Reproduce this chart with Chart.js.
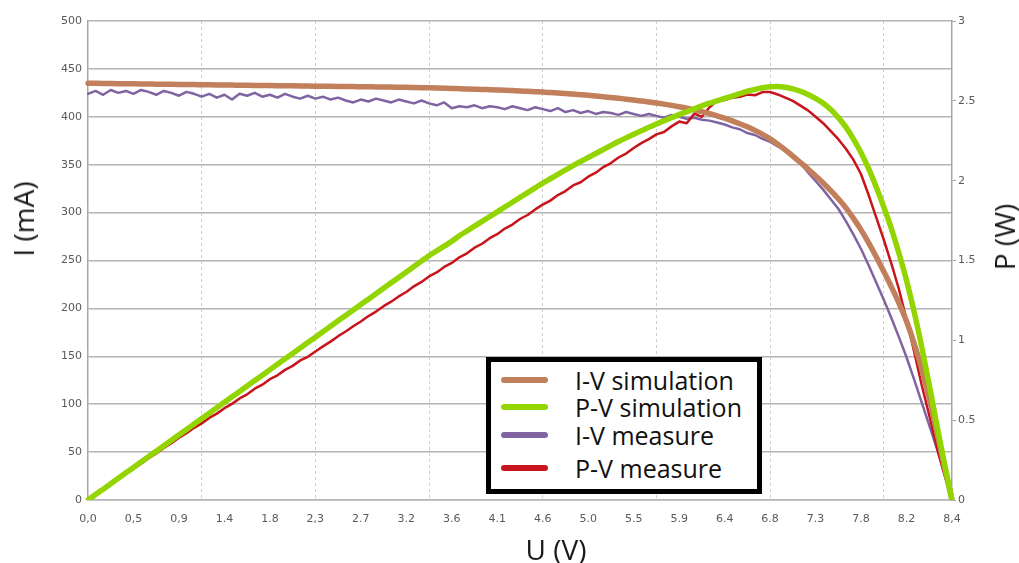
<!DOCTYPE html>
<html>
<head>
<meta charset="utf-8">
<script src="https://cdn.jsdelivr.net/npm/chart.js"></script>
<style>
body { margin: 0; background: #fff; }
#wrap { position: relative; width: 1019px; height: 563px; }
#wrap canvas { position: absolute; left: 0; top: 0; }
.axis-title { position: absolute; font-family: 'Open Sans'; font-size: 28px; line-height: 1; color: #1a1a1a; white-space: nowrap; }
.rot { transform: translate(-50%, -50%) rotate(-90deg); }
.flat { transform: translate(-50%, -50%); }
#legend { position: absolute; left: 486px; top: 357px; width: 276px; height: 137px; box-sizing: border-box;
          border: 5px solid #000; background: #fff; font-family: 'Open Sans'; font-size: 25px; color: #111; }
.row { position: absolute; left: 0; height: 30px; display: flex; align-items: center; white-space: nowrap; }
.swatch { width: 47px; height: 6px; border-radius: 3px; margin-left: 10px; margin-right: 27px; }
</style>
</head>
<body>
<div id="wrap">
  <canvas id="chart" width="1019" height="563"></canvas>
  <div class="axis-title rot" style="left:23px; top:219px;">I (mA)</div>
  <div class="axis-title rot" style="left:1004px; top:237px;">P (W)</div>
  <div class="axis-title flat" style="left:556px; top:549px;">U (V)</div>
  <div id="legend"></div>
</div>
<script>
// --- DATA (one value per sample) ---
const tickLabels = ['0,0','0,5','0,9','1.4','1.8','2,3','2.7','3.2','3.6','4.1',
                    '4.6','5.0','5.5','5.9','6.4','6.8','7.3','7.8','8.2','8,4'];

// I-V simulation (mA)
const ivSim = [435, 434.9, 434.8, 434.7, 434.6, 434.5, 434.4, 434.3, 434.2, 434.1,
  434, 433.9, 433.8, 433.7, 433.6, 433.5, 433.4, 433.3, 433.2, 433.1,
  433, 432.9, 432.8, 432.7, 432.6, 432.5, 432.4, 432.3, 432.2, 432.1,
  432, 431.9, 431.8, 431.7, 431.6, 431.5, 431.4, 431.3, 431.2, 431.1,
  431, 430.9, 430.8, 430.6, 430.4, 430.2, 430, 429.8, 429.6, 429.35,
  429.1, 428.85, 428.6, 428.3, 428, 427.7, 427.35, 427, 426.6, 426.2,
  425.8, 425.3, 424.8, 424.3, 423.7, 423.1, 422.4, 421.7, 420.9, 420.1,
  419.3, 418.4, 417.5, 416.5, 415.5, 414.4, 413.2, 411.9, 410.5, 409,
  407.3, 405.4, 403.3, 401, 398.5, 395.8, 392.8, 389.5, 385.8, 381.7,
  377, 371.5, 365.5, 359, 352.3, 345.5, 338.3, 331, 323, 314.5,
  305, 294, 282, 268.5, 254, 238.5, 222.5, 205.5, 186.5, 163.5,
  137, 106, 71, 35, 0];

// P-V simulation (W)
const pvSim = [0, 0.034, 0.068, 0.102, 0.136, 0.17, 0.204, 0.238, 0.272, 0.306,
  0.34, 0.374, 0.408, 0.442, 0.476, 0.51, 0.544, 0.578, 0.612, 0.646,
  0.68, 0.714, 0.748, 0.782, 0.816, 0.85, 0.884, 0.918, 0.952, 0.986,
  1.02, 1.054, 1.088, 1.122, 1.156, 1.19, 1.224, 1.258, 1.292, 1.326,
  1.36, 1.394, 1.428, 1.462, 1.496, 1.53, 1.56, 1.59, 1.62, 1.655,
  1.685, 1.715, 1.745, 1.775, 1.805, 1.835, 1.865, 1.895, 1.925, 1.955,
  1.985, 2.012, 2.04, 2.067, 2.094, 2.12, 2.145, 2.17, 2.195, 2.22,
  2.245, 2.268, 2.29, 2.312, 2.334, 2.355, 2.375, 2.395, 2.414, 2.432,
  2.45, 2.468, 2.485, 2.5, 2.515, 2.53, 2.545, 2.56, 2.572, 2.582,
  2.588, 2.59, 2.585, 2.575, 2.56, 2.54, 2.515, 2.485, 2.445, 2.395,
  2.335, 2.26, 2.175, 2.075, 1.96, 1.835, 1.7, 1.545, 1.375, 1.18,
  0.96, 0.72, 0.47, 0.23, 0];

// I-V measure (mA)
const ivMeas = [424, 427, 423, 428, 425, 427, 424, 428, 426, 423,
  427, 425, 422, 426, 424, 421, 424, 420, 423, 418,
  424, 422, 425, 421, 423, 420, 424, 421, 419, 422,
  419, 421, 418, 420, 417, 415, 418, 416, 419, 417,
  415, 418, 416, 414, 417, 414, 412, 415, 409, 411,
  410, 412, 409, 411, 410, 408, 411, 409, 407, 410,
  408, 406, 409, 405, 407, 404, 406, 403, 405, 404,
  402, 405, 403, 401, 403, 401, 399, 402, 400, 398,
  399, 397, 396, 394, 392, 389, 387, 383, 381, 377,
  374, 369, 365, 358, 352, 342, 333, 324, 314, 304,
  291, 277, 262, 245, 227, 209, 190, 170, 149, 126,
  102, 78, 54, 27, 0];

// P-V measure (W)
const pvMeas = [0, 0.032, 0.066, 0.097, 0.131, 0.163, 0.196, 0.227, 0.262, 0.292,
  0.326, 0.356, 0.39, 0.418, 0.452, 0.48, 0.514, 0.541, 0.575, 0.602,
  0.636, 0.662, 0.697, 0.722, 0.757, 0.781, 0.815, 0.84, 0.874, 0.897,
  0.93, 0.962, 0.992, 1.026, 1.055, 1.088, 1.118, 1.152, 1.18, 1.214,
  1.242, 1.275, 1.303, 1.338, 1.366, 1.4, 1.425, 1.46, 1.485, 1.52,
  1.545, 1.58, 1.605, 1.64, 1.665, 1.7, 1.725, 1.76, 1.785, 1.82,
  1.85, 1.875, 1.91, 1.935, 1.97, 1.99, 2.025, 2.05, 2.085, 2.11,
  2.145, 2.17, 2.205, 2.235, 2.26, 2.29, 2.305, 2.34, 2.37, 2.36,
  2.42, 2.4, 2.46, 2.5, 2.505, 2.52, 2.525, 2.54, 2.535, 2.555,
  2.555, 2.54, 2.52, 2.5, 2.47, 2.44, 2.4, 2.36, 2.31, 2.26,
  2.2, 2.13, 2.04, 1.91, 1.77, 1.63, 1.48, 1.32, 1.13, 0.93,
  0.72, 0.53, 0.33, 0.16, 0];

// --- AXIS LAYOUT ---
const N = ivSim.length;
const LABEL_EVERY = 6;   // samples between two x labels
const GRID_EVERY = 15;   // samples between two vertical grid lines
const xLabels = new Array(N).fill('');
tickLabels.forEach((t, k) => {
    xLabels[k < tickLabels.length - 1 ? k * LABEL_EVERY : N - 1] = t; // last label sits on the end
});

const tickFont = { family: 'DejaVu Sans', size: 11 };
const tickColor = '#595959';

const chart = new Chart(document.getElementById('chart'), {
    type: 'line',
    data: {
        labels: xLabels,
        datasets: [
            { label: 'I-V simulation', data: ivSim, yAxisID: 'y', borderColor: '#c27f5b', borderWidth: 5.5, order: 1, cubicInterpolationMode: 'monotone' },
            { label: 'P-V simulation', data: pvSim, yAxisID: 'y1', borderColor: '#93d500', borderWidth: 5.5, order: 0, cubicInterpolationMode: 'monotone' },
            { label: 'I-V measure', data: ivMeas, yAxisID: 'y', borderColor: '#8064a2', borderWidth: 2.5, order: 3 },
            { label: 'P-V measure', data: pvMeas, yAxisID: 'y1', borderColor: '#c8141c', borderWidth: 2.5, order: 2 }
        ]
    },
    options: {
        responsive: false,
        animation: false,
        layout: { padding: { top: 21, left: 0, right: 0, bottom: 0 } },
        elements: {
            point: { radius: 0 },
            line: { tension: 0, borderCapStyle: 'round', borderJoinStyle: 'round', fill: false }
        },
        plugins: { legend: { display: false }, tooltip: { enabled: false } },
        scales: {
            x: {
                type: 'category',
                offset: false,
                grid: {
                    drawTicks: false,
                    lineWidth: 1,
                    color: c => (c.index > 0 && c.index < N - 1 && c.index % GRID_EVERY === 0) ? '#cfcfcf' : 'rgba(0,0,0,0)'
                },
                border: { display: true, color: '#b4b4b4', width: 1.5, dash: [3, 3] },
                ticks: { autoSkip: false, maxRotation: 0, minRotation: 0, padding: 13, font: tickFont, color: tickColor },
                afterFit: s => { s.height = 63; }
            },
            y: {
                position: 'left',
                min: 0, max: 500,
                ticks: { stepSize: 50, padding: 6, font: tickFont, color: tickColor },
                grid: { color: '#b4b4b4', lineWidth: 1.5, drawTicks: false },
                border: { color: '#a6a6a6', width: 1.5 },
                afterFit: s => { s.width = 88; }
            },
            y1: {
                position: 'right',
                min: 0, max: 3,
                ticks: { stepSize: 0.5, padding: 2, font: tickFont, color: tickColor, callback: v => String(v) },
                grid: { drawOnChartArea: false, drawTicks: true, tickLength: 4, color: '#a6a6a6' },
                border: { color: '#a6a6a6', width: 1.5 },
                afterFit: s => { s.width = 67; }
            }
        }
    }
});

// --- LEGEND (boxed, inside the plot) ---
const legendOrder = [0, 1, 2, 3];
const rowCenters = [18, 45, 73, 106];
const legend = document.getElementById('legend');
legendOrder.forEach((di, k) => {
    const ds = chart.data.datasets[di];
    const row = document.createElement('div');
    row.className = 'row';
    row.style.top = (rowCenters[k] - 15) + 'px';
    row.innerHTML = `<div class="swatch" style="background:${ds.borderColor}"></div><span>${ds.label}</span>`;
    legend.appendChild(row);
});
</script>
</body>
</html>
